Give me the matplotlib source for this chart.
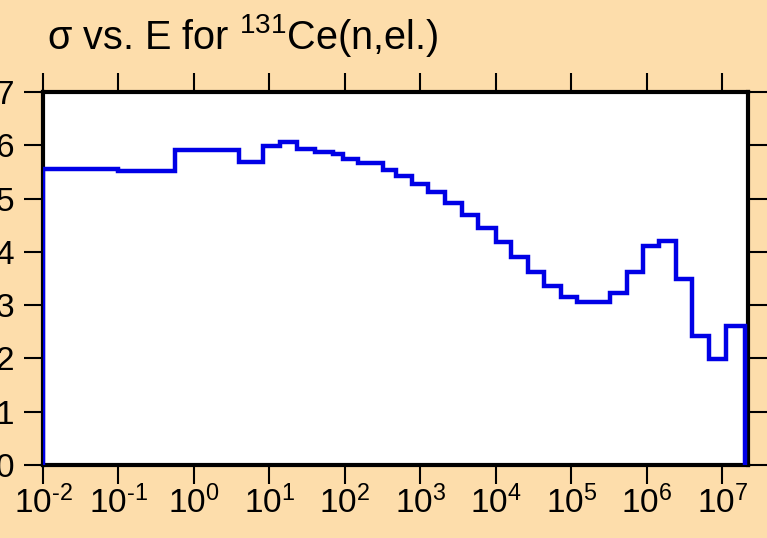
import numpy as np
import matplotlib
matplotlib.use("Agg")
import matplotlib.pyplot as plt
from matplotlib.ticker import NullLocator

plt.rcParams['font.family'] = ['Liberation Sans', 'DejaVu Sans']
plt.rcParams['mathtext.fontset'] = 'custom'
plt.rcParams['mathtext.rm'] = 'Liberation Sans'
plt.rcParams['mathtext.it'] = 'Liberation Sans:italic'
plt.rcParams['mathtext.default'] = 'regular'

# group boundaries (eV) and elastic cross section (b) per group
edges = [1e-2, 1e-1, 0.56, 3.9, 8.2, 13.8, 23, 40, 69, 94, 149, 318, 473, 771,
         1256, 2110, 3550, 5780, 1.0e4, 1.58e4, 2.65e4, 4.32e4, 7.26e4, 1.18e5,
         1.99e5, 3.24e5, 5.43e5, 8.85e5, 1.44e6, 2.42e6, 3.95e6, 6.6e6, 1.11e7, 2e7]
sigma = [5.56, 5.52, 5.91, 5.69, 5.98, 6.07, 5.93, 5.88, 5.83, 5.75, 5.66, 5.53,
         5.43, 5.28, 5.12, 4.91, 4.70, 4.45, 4.19, 3.91, 3.63, 3.36, 3.15, 3.05,
         3.06, 3.23, 3.63, 4.11, 4.20, 3.49, 2.42, 1.98, 2.61]

xticks = [10.0**k for k in range(-2, 8)]
xticklabels = [r'$10^{\text{%d}}$' % k for k in range(-2, 8)]
yticks = list(range(0, 8))

bg = '#FDDDAB'
fig = plt.figure(figsize=(7.67, 5.38), dpi=100, facecolor=bg)
ax = fig.add_axes([43/767, 73/538, 705/767, 373/538])
ax.set_facecolor('white')

ax.stairs(sigma, edges, baseline=0, color='#0000E6', linewidth=3.2, zorder=3)

ax.set_xscale('log')
ax.set_xlim(1e-2, 2.18e7)
ax.set_ylim(0, 7)
ax.set_xticks(xticks)
ax.set_xticklabels(xticklabels)
ax.set_yticks(yticks)
ax.xaxis.set_minor_locator(NullLocator())
ax.tick_params(which='major', direction='out', length=14, width=1.5,
               labelsize=24, top=True, right=True)
ax.tick_params(axis='x', pad=1)
ax.tick_params(axis='y', pad=7)
for s in ax.spines.values():
    s.set_linewidth(3)

fig.text(47/767, 1 - 49/538, 'σ vs. E for $^{131}$Ce(n,el.)', fontsize=28.5,
         va='baseline', ha='left')

fig.savefig('out.png', dpi=100, facecolor=bg)
